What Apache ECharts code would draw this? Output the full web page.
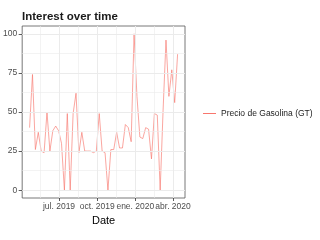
<!DOCTYPE html>
<html>
<head>
<meta charset="utf-8">
<script src="https://cdn.jsdelivr.net/npm/echarts@6/dist/echarts.min.js"></script>
<style>
	html, body { margin: 0; padding: 0; background: #fff; }
	#chart { width: 320px; height: 240px; }
</style>
</head>
<body>
<div id="chart"></div>
<script>
// Interés semanal en "Precio de Gasolina (GT)".
var weeks = [
	'2019-04-21', '2019-04-28', '2019-05-05', '2019-05-12', '2019-05-19', '2019-05-26',
	'2019-06-02', '2019-06-09', '2019-06-16', '2019-06-23', '2019-06-30', '2019-07-07',
	'2019-07-14', '2019-07-21', '2019-07-28', '2019-08-04', '2019-08-11', '2019-08-18',
	'2019-08-25', '2019-09-01', '2019-09-08', '2019-09-15', '2019-09-22', '2019-09-29',
	'2019-10-06', '2019-10-13', '2019-10-20', '2019-10-27', '2019-11-03', '2019-11-10',
	'2019-11-17', '2019-11-24', '2019-12-01', '2019-12-08', '2019-12-15', '2019-12-22',
	'2019-12-29', '2020-01-05', '2020-01-12', '2020-01-19', '2020-01-26', '2020-02-02',
	'2020-02-09', '2020-02-16', '2020-02-23', '2020-03-01', '2020-03-08', '2020-03-15',
	'2020-03-22', '2020-03-29', '2020-04-05', '2020-04-12'
];
var hits = [
	40, 74, 26, 37, 25, 24, 50, 25, 38, 41,
	38, 30, 0, 49, 0, 49, 62, 24, 37, 25,
	25, 25, 24, 25, 49, 25, 24, 0, 26, 26,
	37, 27, 27, 42, 40, 31, 100, 60, 34, 33,
	40, 39, 20, 49, 48, 0, 51, 96, 60, 77,
	56, 87
];
var seriesName = 'Precio de Gasolina (GT)';

// Ejes
var xTickDates = ['2019-07-01', '2019-10-01', '2020-01-01', '2020-04-01'];
var xTickLabels = ['jul. 2019', 'oct. 2019', 'ene. 2020', 'abr. 2020'];
var xMinorDates = ['2019-05-16', '2019-08-16', '2019-11-16', '2020-02-15 12:00'];
var yTicks = [0, 25, 50, 75, 100];
var yMinor = [12.5, 37.5, 62.5, 87.5];

var toTime = function(s) {
	var p = s.split(/[- :]/);
	return new Date(+p[0], +p[1] - 1, +p[2], +(p[3] || 0), +(p[4] || 0)).getTime();
};

var xTicks = xTickDates.map(toTime);
var first = toTime(weeks[0]);
var last = toTime(weeks[weeks.length - 1]);
var pad = (last - first) * 0.05;

var gridColor = '#ebebeb';
var gridLines = [];
xTicks.forEach(function(t) {
	gridLines.push({ xAxis: t, lineStyle: { width: 1 } });
});
xMinorDates.map(toTime).forEach(function(t) {
	gridLines.push({ xAxis: t, lineStyle: { width: 0.6 } });
});
yTicks.forEach(function(v) {
	gridLines.push({ yAxis: v, lineStyle: { width: 1 } });
});
yMinor.forEach(function(v) {
	gridLines.push({ yAxis: v, lineStyle: { width: 0.6 } });
});

var font = 'Liberation Sans, Arial, sans-serif';
var chart = echarts.init(document.getElementById('chart'));
var option = {
	animation: false,
	textStyle: { fontFamily: font },
	title: {
		text: 'Interest over time',
		left: 17,
		top: 6,
		textStyle: { fontSize: 11.5, fontWeight: 'bold', color: '#1a1a1a', fontFamily: font }
	},
	legend: {
		data: [{ name: seriesName, icon: 'rect' }],
		left: 198,
		top: 104,
		itemWidth: 13,
		itemHeight: 1,
		textStyle: { fontSize: 8.5, color: '#222', fontFamily: font }
	},
	grid: {
		show: true,
		left: 21,
		right: 135,
		top: 26,
		bottom: 42,
		backgroundColor: '#fff',
		borderColor: '#555',
		borderWidth: 0.8
	},
	xAxis: {
		type: 'value',
		min: first - pad,
		max: last + pad,
		name: 'Date',
		nameLocation: 'middle',
		nameGap: 11,
		nameTextStyle: { fontSize: 11, color: '#000', fontFamily: font },
		axisLine: { show: false, onZero: false },
		axisTick: { show: true, length: 3, customValues: xTicks, lineStyle: { color: '#333', width: 0.8 } },
		axisLabel: {
			customValues: xTicks,
			margin: 4,
			fontSize: 8.5,
			color: '#4d4d4d',
			hideOverlap: false,
			formatter: function(val) {
				var i = xTicks.indexOf(val);
				return i >= 0 ? xTickLabels[i] : '';
			}
		},
		splitLine: { show: false }
	},
	yAxis: {
		type: 'value',
		min: -5,
		max: 105,
		axisLine: { show: false, onZero: false },
		axisTick: { show: true, length: 3.5, customValues: yTicks, lineStyle: { color: '#333', width: 0.8 } },
		axisLabel: { customValues: yTicks, margin: 5, fontSize: 8.5, color: '#4d4d4d' },
		splitLine: { show: false }
	},
	series: [
		{
			name: 'grid',
			type: 'line',
			z: 1,
			silent: true,
			data: [],
			markLine: {
				silent: true,
				symbol: 'none',
				animation: false,
				label: { show: false },
				lineStyle: { color: gridColor, type: 'solid' },
				data: gridLines
			}
		},
		{
			name: seriesName,
			type: 'line',
			z: 2,
			symbol: 'none',
			color: '#f8766d',
			lineStyle: { width: 1, opacity: 0.65 },
			data: weeks.map(function(w, i) { return [toTime(w), hits[i]]; })
		}
	]
};
chart.setOption(option);
</script>
</body>
</html>
